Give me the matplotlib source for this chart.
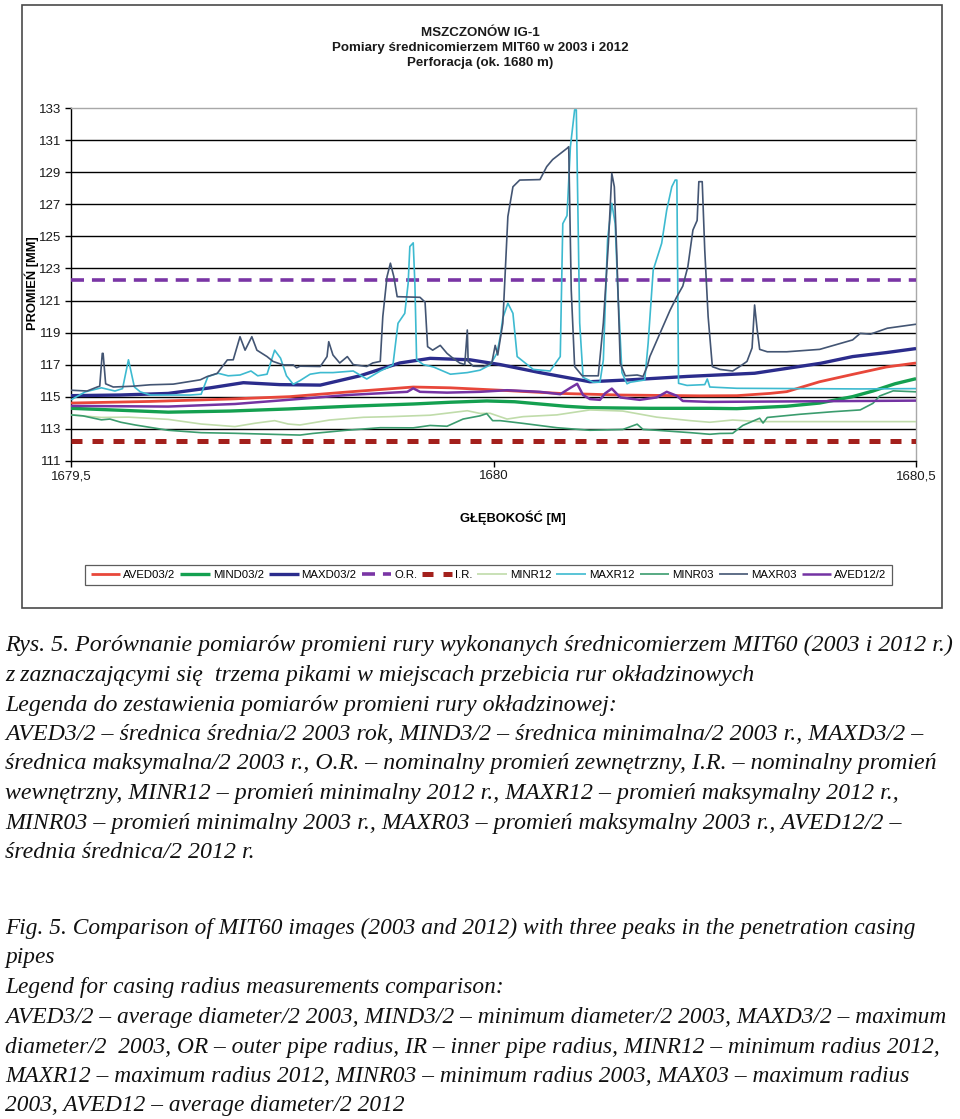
import matplotlib
matplotlib.use("Agg")
import matplotlib.pyplot as plt
from matplotlib.patches import Rectangle

# ---------------- data (depth [m], radius [mm]) ----------------
aved03_d = [1679.500, 1679.594, 1679.688, 1679.759, 1679.830, 1679.905, 1679.949, 1680.008,
            1680.079, 1680.150, 1680.244, 1680.288, 1680.327, 1680.347, 1680.386, 1680.426,
            1680.465, 1680.500]
aved03_v = [114.60, 114.70, 114.85, 115.00, 115.30, 115.60, 115.55, 115.40,
            115.20, 115.10, 115.05, 115.06, 115.20, 115.31, 115.93, 116.40,
            116.85, 117.10]

mind03_d = [1679.500, 1679.558, 1679.615, 1679.688, 1679.757, 1679.830, 1679.905, 1679.949,
            1679.992, 1680.025, 1680.055, 1680.085, 1680.114, 1680.185, 1680.256, 1680.288,
            1680.347, 1680.386, 1680.425, 1680.449, 1680.475, 1680.500]
mind03_v = [114.27, 114.15, 114.03, 114.10, 114.23, 114.40, 114.54, 114.65,
            114.73, 114.68, 114.54, 114.40, 114.31, 114.27, 114.27, 114.25,
            114.40, 114.60, 115.00, 115.35, 115.80, 116.12]

maxd03_d = [1679.500, 1679.558, 1679.615, 1679.665, 1679.704, 1679.747, 1679.795, 1679.842,
            1679.889, 1679.925, 1679.972, 1680.008, 1680.055, 1680.114, 1680.162, 1680.229,
            1680.309, 1680.387, 1680.425, 1680.465, 1680.500]
maxd03_v = [115.06, 115.10, 115.20, 115.55, 115.87, 115.75, 115.72, 116.30,
            117.10, 117.39, 117.30, 117.00, 116.50, 115.93, 116.05, 116.26,
            116.46, 117.08, 117.50, 117.75, 118.00]

or_d = [1679.5, 1680.5]
or_v = [122.25, 122.25]
ir_d = [1679.5, 1680.5]
ir_v = [112.22, 112.22]

minr12_d = [1679.500, 1679.536, 1679.568, 1679.615, 1679.654, 1679.694, 1679.718, 1679.741,
            1679.757, 1679.771, 1679.806, 1679.846, 1679.878, 1679.925, 1679.969, 1679.984,
            1679.996, 1680.016, 1680.035, 1680.075, 1680.114, 1680.153, 1680.193, 1680.233,
            1680.256, 1680.283, 1680.315, 1680.500]
minr12_v = [113.86, 113.70, 113.72, 113.58, 113.29, 113.13, 113.34, 113.50,
            113.29, 113.23, 113.54, 113.71, 113.75, 113.84, 114.12, 113.95,
            113.96, 113.60, 113.75, 113.86, 114.17, 114.10, 113.72, 113.50,
            113.40, 113.54, 113.44, 113.44]

maxr12_d = [1679.500, 1679.517, 1679.536, 1679.552, 1679.561, 1679.568, 1679.575, 1679.582,
            1679.594, 1679.641, 1679.654, 1679.662, 1679.674, 1679.686, 1679.700, 1679.713,
            1679.721, 1679.732, 1679.741, 1679.748, 1679.755, 1679.763, 1679.771, 1679.783,
            1679.795, 1679.810, 1679.834, 1679.850, 1679.866, 1679.881, 1679.887, 1679.895,
            1679.899, 1679.901, 1679.905, 1679.907, 1679.909, 1679.917, 1679.929, 1679.949,
            1679.969, 1679.984, 1679.996, 1680.004, 1680.008, 1680.011, 1680.017, 1680.023,
            1680.028, 1680.047, 1680.067, 1680.079, 1680.082, 1680.087, 1680.091, 1680.096,
            1680.098, 1680.102, 1680.106, 1680.118, 1680.126, 1680.130, 1680.135, 1680.140,
            1680.144, 1680.147, 1680.152, 1680.158, 1680.162, 1680.179, 1680.183, 1680.189,
            1680.199, 1680.205, 1680.211, 1680.215, 1680.217, 1680.219, 1680.229, 1680.250,
            1680.253, 1680.256, 1680.288, 1680.363, 1680.434, 1680.500]
maxr12_v = [114.80, 115.30, 115.55, 115.35, 115.50, 117.30, 115.60, 115.30,
            115.10, 115.10, 115.15, 116.25, 116.46, 116.30, 116.35, 116.60,
            116.30, 116.40, 117.90, 117.40, 116.30, 115.77, 116.00, 116.40,
            116.50, 116.50, 116.60, 116.10, 116.60, 116.98, 119.58, 120.20,
            122.08, 124.37, 124.60, 122.00, 117.30, 117.00, 116.85, 116.40,
            116.50, 116.65, 116.98, 117.70, 118.75, 119.90, 120.83, 120.20,
            117.50, 116.70, 116.60, 117.50, 125.80, 126.30, 130.60, 132.90,
            132.90, 119.60, 116.20, 115.90, 115.90, 117.30, 124.80, 127.07,
            125.80, 121.80, 116.50, 115.80, 115.90, 116.04, 118.33, 122.90,
            124.57, 126.65, 128.10, 128.52, 128.52, 115.83, 115.70, 115.75,
            116.10, 115.60, 115.52, 115.50, 115.48, 115.50]

minr03_d = [1679.500, 1679.514, 1679.536, 1679.546, 1679.559, 1679.576, 1679.615, 1679.654,
            1679.694, 1679.757, 1679.771, 1679.786, 1679.826, 1679.866, 1679.905, 1679.925,
            1679.945, 1679.964, 1679.984, 1679.992, 1679.999, 1680.008, 1680.035, 1680.075,
            1680.114, 1680.153, 1680.170, 1680.177, 1680.193, 1680.233, 1680.256, 1680.268,
            1680.283, 1680.295, 1680.315, 1680.319, 1680.324, 1680.363, 1680.402, 1680.434,
            1680.449, 1680.457, 1680.473, 1680.500]
minr03_v = [113.86, 113.80, 113.55, 113.60, 113.40, 113.23, 112.90, 112.75,
            112.71, 112.62, 112.60, 112.70, 112.90, 113.06, 113.05, 113.20,
            113.15, 113.60, 113.80, 113.94, 113.50, 113.50, 113.33, 113.06,
            112.90, 112.95, 113.28, 112.95, 112.90, 112.75, 112.65, 112.70,
            112.71, 113.20, 113.65, 113.35, 113.70, 113.90, 114.06, 114.17,
            114.58, 115.04, 115.36, 115.30]

maxr03_pts = [
    (1679.500, 115.40), (1679.519, 115.35), (1679.531, 115.60), (1679.534, 115.65),
    (1679.537, 117.70), (1679.538, 117.70), (1679.541, 115.80), (1679.550, 115.60),
    (1679.573, 115.65), (1679.594, 115.74), (1679.621, 115.78), (1679.653, 116.05),
    (1679.661, 116.25), (1679.673, 116.45), (1679.685, 117.29), (1679.692, 117.30),
    (1679.700, 118.74), (1679.706, 117.90), (1679.714, 118.74), (1679.720, 117.90),
    (1679.732, 117.50), (1679.739, 117.20), (1679.751, 116.98), (1679.763, 116.98),
    (1679.767, 116.80), (1679.771, 116.90), (1679.795, 116.88), (1679.803, 117.50),
    (1679.805, 118.43), (1679.810, 117.60), (1679.818, 117.10), (1679.827, 117.50),
    (1679.834, 117.00), (1679.850, 116.88), (1679.857, 117.10), (1679.866, 117.20),
    (1679.869, 120.00), (1679.874, 122.49), (1679.878, 123.33), (1679.882, 122.50),
    (1679.886, 121.24), (1679.913, 121.20), (1679.919, 120.90), (1679.922, 118.12),
    (1679.928, 117.90), (1679.937, 118.20), (1679.945, 117.70), (1679.952, 117.40),
    (1679.960, 117.10), (1679.966, 117.00), (1679.969, 119.16), (1679.970, 117.20),
    (1679.976, 116.90), (1679.988, 116.88), (1679.998, 117.10), (1680.002, 118.20),
    (1680.005, 117.60), (1680.011, 119.58), (1680.017, 126.24), (1680.023, 128.10),
    (1680.031, 128.52), (1680.055, 128.55), (1680.063, 129.36), (1680.070, 129.80),
    (1680.087, 130.50), (1680.089, 130.60), (1680.092, 121.66), (1680.096, 116.88),
    (1680.105, 116.30), (1680.124, 116.30), (1680.130, 119.60), (1680.136, 124.60),
    (1680.140, 128.94), (1680.143, 128.10), (1680.146, 123.74), (1680.150, 117.08),
    (1680.156, 116.30), (1680.170, 116.35), (1680.177, 116.26), (1680.182, 116.90),
    (1680.185, 117.50), (1680.197, 118.95), (1680.209, 120.40), (1680.217, 121.24),
    (1680.224, 121.90), (1680.230, 123.11), (1680.236, 125.40), (1680.241, 126.00),
    (1680.243, 128.42), (1680.247, 128.42), (1680.250, 124.15), (1680.254, 120.00),
    (1680.259, 116.87), (1680.268, 116.70), (1680.283, 116.60), (1680.292, 116.90),
    (1680.300, 117.20), (1680.306, 118.04), (1680.309, 120.72), (1680.312, 119.20),
    (1680.315, 117.95), (1680.324, 117.80), (1680.347, 117.80), (1680.386, 117.95),
    (1680.425, 118.54), (1680.434, 118.95), (1680.446, 118.90), (1680.466, 119.27),
    (1680.500, 119.52),
]
maxr03_d = [p[0] for p in maxr03_pts]
maxr03_v = [p[1] for p in maxr03_pts]

aved12_d = [1679.500, 1679.615, 1679.694, 1679.757, 1679.827, 1679.898, 1679.905, 1679.913,
            1679.945, 1679.984, 1680.016, 1680.055, 1680.079, 1680.091, 1680.099, 1680.106,
            1680.114, 1680.126, 1680.132, 1680.140, 1680.150, 1680.173, 1680.193, 1680.205,
            1680.217, 1680.224, 1680.256, 1680.500]
aved12_v = [114.42, 114.38, 114.54, 114.80, 115.10, 115.30, 115.52, 115.30,
            115.25, 115.30, 115.40, 115.30, 115.15, 115.55, 115.80, 115.10,
            114.85, 114.80, 115.20, 115.50, 114.95, 114.80, 114.95, 115.30,
            115.05, 114.73, 114.67, 114.75]

series_names = ["AVED03/2", "MIND03/2", "MAXD03/2", "O.R.", "I.R.",
                "MINR12", "MAXR12", "MINR03", "MAXR03", "AVED12/2"]

y_ticks = [111, 113, 115, 117, 119, 121, 123, 125, 127, 129, 131, 133]
x_ticks = [1679.5, 1680.0, 1680.5]
x_tick_labels = ["1679,5", "1680", "1680,5"]

title_lines = ["MSZCZONÓW IG-1",
               "Pomiary średnicomierzem MIT60 w 2003 i 2012",
               "Perforacja (ok. 1680 m)"]

caption_pl = [
    "Rys. 5. Porównanie pomiarów promieni rury wykonanych średnicomierzem MIT60 (2003 i 2012 r.)",
    "z zaznaczającymi się  trzema pikami w miejscach przebicia rur okładzinowych",
    "Legenda do zestawienia pomiarów promieni rury okładzinowej:",
    "AVED3/2 – średnica średnia/2 2003 rok, MIND3/2 – średnica minimalna/2 2003 r., MAXD3/2 –",
    "średnica maksymalna/2 2003 r., O.R. – nominalny promień zewnętrzny, I.R. – nominalny promień",
    "wewnętrzny, MINR12 – promień minimalny 2012 r., MAXR12 – promień maksymalny 2012 r.,",
    "MINR03 – promień minimalny 2003 r., MAXR03 – promień maksymalny 2003 r., AVED12/2 –",
    "średnia średnica/2 2012 r.",
]
caption_en = [
    "Fig. 5. Comparison of MIT60 images (2003 and 2012) with three peaks in the penetration casing",
    "pipes",
    "Legend for casing radius measurements comparison:",
    "AVED3/2 – average diameter/2 2003, MIND3/2 – minimum diameter/2 2003, MAXD3/2 – maximum",
    "diameter/2  2003, OR – outer pipe radius, IR – inner pipe radius, MINR12 – minimum radius 2012,",
    "MAXR12 – maximum radius 2012, MINR03 – minimum radius 2003, MAX03 – maximum radius",
    "2003, AVED12 – average diameter/2 2012",
]

# ---------------- figure ----------------
W, H = 960, 1119
plt.rcParams["font.family"] = ["Liberation Sans", "DejaVu Sans"]
fig = plt.figure(figsize=(W / 100, H / 100), dpi=100)


def fx(px):
    return px / W


def fy(py):
    return 1 - py / H


# outer chart frame
fig.patches.append(Rectangle((fx(22), fy(608)), (942 - 22) / W, (608 - 5) / H,
                             transform=fig.transFigure, fill=False,
                             edgecolor="#4a4a4a", linewidth=1.2))

ax = fig.add_axes([fx(71), fy(460.7), (916 - 71) / W, (460.7 - 108.3) / H])

for gy in y_ticks[1:-1]:
    ax.axhline(gy, color="black", linewidth=1.0, zorder=1)

styles = [
    dict(color="#e8473a", lw=2.0),
    dict(color="#14a050", lw=2.4),
    dict(color="#2b2c8c", lw=2.4),
    dict(color="#7a35a5", lw=2.6, dashes=(3.6, 2.2)),
    dict(color="#a3201c", lw=3.6, dashes=(2.2, 2.0)),
    dict(color="#c0dcaa", lw=1.2),
    dict(color="#3dbad0", lw=1.2),
    dict(color="#3b9c6e", lw=1.2),
    dict(color="#435573", lw=1.2),
    dict(color="#7433a3", lw=1.8),
]
data = [(aved03_d, aved03_v), (mind03_d, mind03_v), (maxd03_d, maxd03_v),
        (or_d, or_v), (ir_d, ir_v), (minr12_d, minr12_v), (maxr12_d, maxr12_v),
        (minr03_d, minr03_v), (maxr03_d, maxr03_v), (aved12_d, aved12_v)]

handles = []
for name, (d, v), st in zip(series_names, data, styles):
    kw = dict(color=st["color"], linewidth=st["lw"], zorder=3, solid_capstyle="butt")
    if "dashes" in st:
        kw["dashes"] = st["dashes"]
        kw["dash_capstyle"] = "butt"
    line, = ax.plot(d, v, label=name, **kw)
    handles.append(line)

ax.set_xlim(1679.5, 1680.5)
ax.set_ylim(111, 133)
ax.set_yticks(y_ticks)
ax.set_yticklabels([str(t) for t in y_ticks])
ax.set_xticks(x_ticks)
ax.set_xticklabels(x_tick_labels)
ax.tick_params(axis="both", direction="out", length=4, width=1, labelsize=9.5,
               color="black", labelcolor="#1a1a1a")
ax.tick_params(axis="y", pad=3)
ax.tick_params(axis="x", pad=3)

for s in ["left", "bottom"]:
    ax.spines[s].set_color("black")
    ax.spines[s].set_linewidth(1.0)
for s in ["top", "right"]:
    ax.spines[s].set_color("#a8a8a8")
    ax.spines[s].set_linewidth(1.0)

ax.set_ylabel("PROMIEŃ [MM]", fontsize=9.3, fontweight="bold", va="center")
ax.yaxis.set_label_coords((32 - 71) / 845, 0.504)
ax.set_xlabel("GŁĘBOKOŚĆ [M]", fontsize=9.3, fontweight="bold")
ax.xaxis.set_label_coords((513 - 71) / 845, (460.7 - 518) / 352.4)
ax.xaxis.label.set_verticalalignment("center")

# titles
for txt, py in zip(title_lines, [33, 48, 63]):
    fig.text(0.5, fy(py), txt, ha="center", va="center", fontsize=9.6,
             fontweight="bold", color="#1a1a1a")

# legend
leg = fig.legend(handles=handles, labels=series_names, loc="center",
                 bbox_to_anchor=(fx(488.5), fy(575)), ncol=10, fontsize=8.2,
                 frameon=True, fancybox=False, handlelength=2.6,
                 handletextpad=0.25, columnspacing=0.45, borderpad=0.45,
                 borderaxespad=0)
leg.get_frame().set_edgecolor("#333333")
leg.get_frame().set_linewidth(0.9)

# caption
cap_font = ["Liberation Serif", "DejaVu Serif"]
fig.canvas.draw()
renderer = fig.canvas.get_renderer()
probe = fig.text(0, 0, caption_pl[0], fontsize=10, family=cap_font, style="italic")
wpx = probe.get_window_extent(renderer).width
probe.remove()
cap_size = 10 * (947 / wpx)

pl_y = [645, 675, 705, 734, 764, 793, 823, 852]
en_y = [928, 957, 987, 1017, 1047, 1077, 1106]
for txt, py in zip(caption_pl, pl_y):
    fig.text(fx(5), fy(py), txt, ha="left", va="center", fontsize=cap_size,
             family=cap_font, style="italic", color="#111111")
for txt, py in zip(caption_en, en_y):
    fig.text(fx(5), fy(py), txt, ha="left", va="center", fontsize=cap_size * 0.982,
             family=cap_font, style="italic", color="#111111")

fig.savefig("out.png", dpi=100, facecolor="white")
